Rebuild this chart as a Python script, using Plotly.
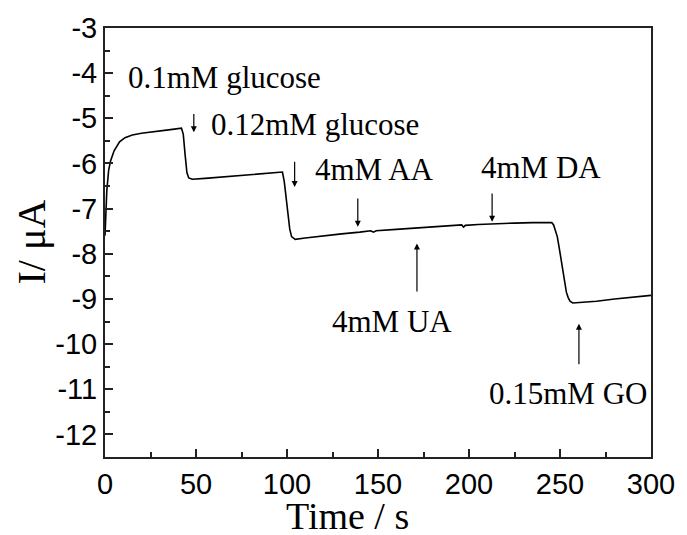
import plotly.graph_objects as go

time_s = [0, 0.5, 1, 2, 3, 5, 8, 11, 15, 20, 25, 30, 36, 42, 43, 44, 45, 46, 48, 55, 65, 75, 85, 92,
          97.5, 98.5, 99.5, 100.5, 101.5, 102.5, 104.5, 110, 120, 130, 140, 146, 147.5, 149, 160, 170,
          180, 190, 196, 197, 198, 205, 215, 225, 235, 242, 245.5, 246.5, 247.5, 248.5, 249.5, 250.5,
          251.5, 252.5, 253.5, 254.5, 255.5, 257, 260, 270, 280, 290, 300]
current_uA = [-7.6, -7.0, -6.6, -6.15, -5.95, -5.72, -5.52, -5.43, -5.37, -5.33, -5.30, -5.28, -5.25, -5.22,
              -5.35, -5.8, -6.2, -6.32, -6.35, -6.33, -6.30, -6.27, -6.24, -6.22,
              -6.19, -6.4, -6.75, -7.1, -7.45, -7.62, -7.68, -7.65, -7.60, -7.56, -7.52, -7.49, -7.52, -7.49,
              -7.46, -7.43, -7.41, -7.38, -7.36, -7.41, -7.37, -7.35, -7.33, -7.32, -7.31, -7.30, -7.31,
              -7.36, -7.48, -7.62, -7.85, -8.12, -8.4, -8.65, -8.85, -8.97, -9.05, -9.09, -9.08, -9.05,
              -9.0, -8.96, -8.92]

x_ticks = [0, 50, 100, 150, 200, 250, 300]
y_ticks = [-3, -4, -5, -6, -7, -8, -9, -10, -11, -12]
y_ticktext = ["-3", "-4", "-5", "-6", "-7", "-8", "-9", "-10", "-11", "-12"]

# labels: text, text position (t, I), arrow head (t, I), arrow tail (t, I)
labels = ["0.1mM glucose", "0.12mM glucose", "4mM AA", "4mM DA", "4mM UA", "0.15mM GO"]
label_t = [65.9, 115.6, 147.8, 239.5, 157.9, 254.4]
label_i = [-4.10, -5.13, -6.14, -6.10, -9.49, -11.09]
head_t = [48.8, 104.2, 138.9, 212.7, 171.4, 260.4]
head_i = [-5.31, -6.52, -7.40, -7.29, -7.77, -9.55]
tail_t = [48.8, 104.2, 138.9, 212.7, 171.4, 260.4]
tail_i = [-4.87, -5.93, -6.74, -6.63, -8.87, -10.48]

fig = go.Figure()
fig.add_trace(go.Scatter(x=time_s, y=current_uA, mode="lines",
                         line=dict(color="black", width=1.6), showlegend=False))

serif = "Liberation Serif, Times New Roman, serif"
sans = "Liberation Sans, Arial, sans-serif"

annotations = []
for txt, lt, li in zip(labels, label_t, label_i):
    annotations.append(dict(x=lt, y=li, xref="x", yref="y", text=txt, showarrow=False,
                            font=dict(family=serif, size=31, color="black"),
                            xanchor="center", yanchor="middle"))
for ht, hi, tt, ti in zip(head_t, head_i, tail_t, tail_i):
    annotations.append(dict(x=ht, y=hi, ax=tt, ay=ti, xref="x", yref="y", axref="x", ayref="y",
                            text="", showarrow=True, arrowhead=2, arrowsize=1, arrowwidth=1.2,
                            arrowcolor="black"))
annotations.append(dict(x=133.5, y=0, xref="x", yref="paper", yshift=-37, text="Time / s",
                        showarrow=False, xanchor="center", yanchor="top", borderpad=0,
                        font=dict(family=serif, size=38, color="black")))
annotations.append(dict(x=0, y=0.5, xref="paper", yref="paper", xshift=-74, text="I/ μA",
                        showarrow=False, xanchor="center", yanchor="middle", textangle=-90,
                        font=dict(family=serif, size=40, color="black")))

axis_common = dict(showline=True, linecolor="#222", linewidth=2, mirror=True, showgrid=False,
                   zeroline=False, ticks="inside", ticklen=8, tickwidth=2, tickcolor="#222",
                   tickfont=dict(family=sans, size=29, color="black"))

fig.update_layout(
    width=687, height=535,
    margin=dict(l=105, r=29, t=25, b=78),
    paper_bgcolor="white", plot_bgcolor="white",
    xaxis=dict(range=[0, 300], tickvals=x_ticks, ticktext=[str(v) for v in x_ticks],
               minor=dict(ticks="inside", ticklen=5, tickwidth=2, tickcolor="#222", dtick=25, tick0=0),
               **axis_common),
    yaxis=dict(range=[-12.5, -3], tickvals=y_ticks, ticktext=y_ticktext,
               minor=dict(ticks="inside", ticklen=5, tickwidth=2, tickcolor="#222", dtick=0.5, tick0=-3),
               **axis_common),
    annotations=annotations,
)

fig.write_html("out.html")
